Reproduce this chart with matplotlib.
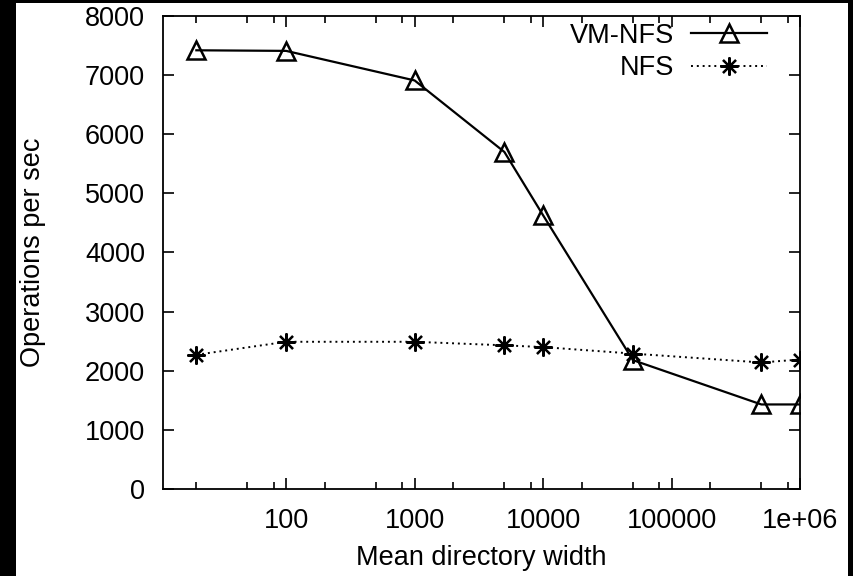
import matplotlib
matplotlib.use("Agg")
import matplotlib.pyplot as plt
from matplotlib.patches import Rectangle
from matplotlib.ticker import FixedLocator, NullFormatter
import numpy as np

# Data
widths = [20, 100, 1000, 5000, 10000, 50000, 500000, 1000000]
vm_nfs = [7420, 7410, 6910, 5700, 4630, 2180, 1430, 1430]
nfs = [2270, 2490, 2490, 2430, 2400, 2290, 2140, 2190]
xtick_vals = [100, 1000, 10000, 100000, 1000000]
xtick_labels = ["100", "1000", "10000", "100000", "1e+06"]
ytick_vals = [0, 1000, 2000, 3000, 4000, 5000, 6000, 7000, 8000]

plt.rcParams['font.family'] = ['Liberation Sans', 'DejaVu Sans']
FS = 19.5

fig = plt.figure(figsize=(8.54, 5.76), dpi=100, facecolor="black")
#White page with the black border on left/top/right, kept behind the axes
fig.patches.append(Rectangle((16 / 854, 0), (848 - 16) / 854, (576 - 3) / 576,
                             transform=fig.transFigure, facecolor="white",
                             edgecolor="none", zorder=-10))

ax = fig.add_axes([163 / 854, 87 / 576, (800 - 163) / 854, (489 - 16) / 576])
ax.set_facecolor("white")

ax.plot(widths, vm_nfs, color="black", lw=1.6, marker="^", ms=12.5,
        mfc="none", mec="black", mew=1.8, label="VM-NFS")
ax.plot(widths, nfs, color="black", lw=1.4, ls=(0, (1, 2)), marker=(8, 2, 0),
        ms=13, mec="black", mew=1.6, label="NFS")

ax.set_xscale("log")
ax.set_xlim(11, 1e6)
ax.set_ylim(0, 8000)

ax.xaxis.set_major_locator(FixedLocator(xtick_vals))
ax.set_xticklabels(xtick_labels)
minor = [m * 10 ** d for d in range(1, 6) for m in (2, 5, 8)]
ax.xaxis.set_minor_locator(FixedLocator(minor))
ax.xaxis.set_minor_formatter(NullFormatter())
ax.set_yticks(ytick_vals)

ax.tick_params(which="both", direction="in", top=True, right=True,
               labelsize=FS, colors="black", width=1.2)
ax.tick_params(which="major", length=8)
ax.tick_params(which="minor", length=5)
ax.tick_params(axis="x", which="major", pad=14)
ax.tick_params(axis="y", which="major", pad=13)
for s in ax.spines.values():
    s.set_linewidth(1.3)

ax.set_xlabel("Mean directory width", fontsize=FS)
ax.set_ylabel("Operations per sec", fontsize=FS)
ax.xaxis.set_label_coords(0.5, (489 - 545) / 473)
ax.yaxis.set_label_coords((46 - 163) / 637, 0.5)

ax.legend(loc="upper right", frameon=False, markerfirst=False, fontsize=FS,
          handlelength=2.8, handletextpad=0.65, labelspacing=0.25,
          borderaxespad=0.0, borderpad=0.1,
          bbox_to_anchor=(1 - 30 / 637, 1 - 4 / 473))

fig.savefig("out.png", dpi=100, facecolor=fig.get_facecolor())
